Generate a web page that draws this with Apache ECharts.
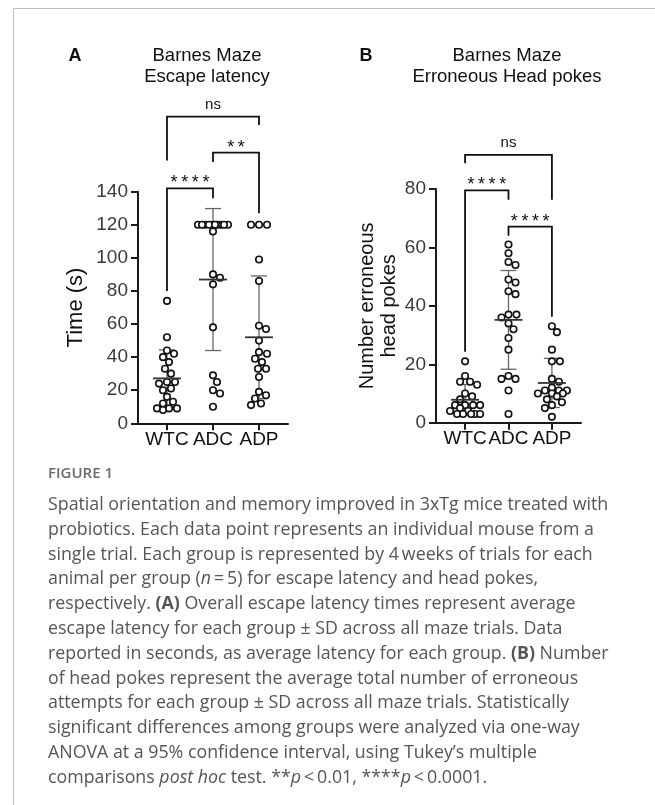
<!DOCTYPE html>
<html><head><meta charset="utf-8">
<script src="https://cdn.jsdelivr.net/npm/echarts@6/dist/echarts.min.js"></script>
<style>html,body{margin:0;padding:0;background:#fff}#c{width:655px;height:805px}</style>
</head><body><div id="c"></div>
<script>
// ---------- data ----------
const categories = ['WTC', 'ADC', 'ADP'];
// Panel A: escape latency (s)
const latencyWTC = [74, 52, 44, 42, 40, 37, 33, 30, 25, 25, 24, 21, 20, 16, 13, 12, 9, 9, 9, 8];
const latencyADC = [120, 120, 120, 120, 120, 120, 120, 120, 120, 120, 116, 90, 88, 84, 58, 29, 25, 20, 18, 10];
const latencyADP = [120, 120, 120, 99, 86, 59, 57, 50, 43, 42, 39, 37, 33, 33, 28, 19, 17, 15, 12, 11];
// Panel B: erroneous head pokes
const pokesWTC = [21, 16, 14, 14, 13, 10, 9, 8, 6, 6, 6, 6, 5, 4, 4, 3, 3, 3, 3, 3];
const pokesADC = [61, 58, 55, 54, 49, 48, 45, 44, 37, 37, 36, 34, 32, 29, 25, 16, 15, 15, 11, 3];
const pokesADP = [33, 31, 25, 21, 21, 15, 14, 12, 11, 11, 11, 10, 10, 10, 9, 8, 7, 6, 5, 2];
const ticksA = [0, 20, 40, 60, 80, 100, 120, 140];
const ticksB = [0, 20, 40, 60, 80];
// significance brackets: [fromGroup, toGroup, topValue, leftLegEnd, rightLegEnd, label]
const bracketsA = [[0, 1, 142, 80, 136, '****'], [1, 2, 163.6, 158, 127, '**'], [0, 2, 185.4, 158.8, 180.3, 'ns']];
const bracketsB = [[0, 1, 79.5, 24.3, 76.3, '****'], [1, 2, 67.1, 64, 36.3, '****'], [0, 2, 91.7, 88.8, 76.3, 'ns']];
const captionLines = [
  'Spatial orientation and memory improved in 3xTg mice treated with',
  'probiotics. Each data point represents an individual mouse from a',
  'single trial. Each group is represented by 4\u2009weeks of trials for each',
  'animal per group ({i|n}\u2009=\u20095) for escape latency and head pokes,',
  'respectively. {b|(A)} Overall escape latency times represent average',
  'escape latency for each group \u00b1 SD across all maze trials. Data',
  'reported in seconds, as average latency for each group. {b|(B)} Number',
  'of head pokes represent the average total number of erroneous',
  'attempts for each group \u00b1 SD across all maze trials. Statistically',
  'significant differences among groups were analyzed via one-way',
  'ANOVA at a 95% confidence interval, using Tukey\u2019s multiple',
  'comparisons {i|post hoc} test. **{i|p}\u2009<\u20090.01, ****{i|p}\u2009<\u20090.0001.'
];

// ---------- helpers ----------
const mean = a => a.reduce((s, v) => s + v, 0) / a.length;
const sd = a => { const m = mean(a); return Math.sqrt(a.reduce((s, v) => s + (v - m) * (v - m), 0) / (a.length - 1)); };
const groupsA = [latencyWTC, latencyADC, latencyADP];
const groupsB = [pokesWTC, pokesADC, pokesADP];
const FONT = '"Liberation Sans", Arial, sans-serif';
const AX = '#1a1a1a';
const CAP = 17.8;

const chart = echarts.init(document.getElementById('c'), null, { renderer: 'canvas' });

function xAxisDef(gridIndex, min, max) {
  return {
    type: 'value', gridIndex, min, max,
    splitLine: { show: false },
    axisLine: { show: true, onZero: false, lineStyle: { color: AX, width: 2 } },
    axisTick: { show: true, customValues: [0, 1, 2], length: 7, lineStyle: { color: AX, width: 2 } },
    axisLabel: { show: true, customValues: [0, 1, 2], formatter: v => categories[Math.round(v)] || '',
      fontFamily: FONT, fontSize: 19, color: '#111', margin: 7 }
  };
}
function yAxisDef(gridIndex, max, ticks, name, nameGap, nameSize, nameLH) {
  return {
    type: 'value', gridIndex, min: ticks[0], max, interval: ticks[1] - ticks[0],
    splitLine: { show: false },
    axisLine: { show: true, onZero: false, lineStyle: { color: AX, width: 2 } },
    axisTick: { show: true, length: 7, lineStyle: { color: AX, width: 2 } },
    axisLabel: { fontFamily: FONT, fontSize: 19, color: '#3a3a3a', margin: 10 },
    name, nameLocation: 'middle', nameGap,
    nameTextStyle: { fontFamily: FONT, fontSize: nameSize, color: '#111', lineHeight: nameLH }
  };
}

function statsData(groups) { return groups.map((g, i) => [i, mean(g), sd(g)]); }
function sdRender(params, api) {
  const x = api.value(0), m = api.value(1), s = api.value(2);
  const t = api.coord([x, m + s]), b = api.coord([x, m - s]);
  const st = { stroke: '#666', lineWidth: 1.3 };
  return { type: 'group', children: [
    { type: 'line', shape: { x1: t[0], y1: t[1], x2: b[0], y2: b[1] }, style: st },
    { type: 'line', shape: { x1: t[0] - 8, y1: t[1], x2: t[0] + 8, y2: t[1] }, style: st },
    { type: 'line', shape: { x1: b[0] - 8, y1: b[1], x2: b[0] + 8, y2: b[1] }, style: st }
  ] };
}
function meanRender(params, api) {
  const c = api.coord([api.value(0), api.value(1)]);
  return { type: 'line', shape: { x1: c[0] - 14, y1: c[1], x2: c[0] + 14, y2: c[1] }, style: { stroke: '#333', lineWidth: 1.8 } };
}
function bracketRenderer(list) {
  return function (params, api) {
    const x1 = api.value(0), x2 = api.value(1), top = api.value(2);
    const pL = api.coord([x1, api.value(3)]), pTL = api.coord([x1, top]);
    const pTR = api.coord([x2, top]), pR = api.coord([x2, api.value(4)]);
    const lab = list[params.dataIndex][5];
    const isStar = lab.indexOf('*') >= 0;
    return { type: 'group', children: [
      { type: 'polyline', shape: { points: [pL, pTL, pTR, pR] }, style: { stroke: '#111', lineWidth: 1.8, fill: null } },
      { type: 'text', x: (pTL[0] + pTR[0]) / 2, y: pTL[1] + (isStar ? 4 : -4),
        style: { text: isStar ? lab.split('').join('\u2009') : lab, align: 'center', verticalAlign: 'bottom',
          font: (isStar ? '18px ' : '15px ') + FONT, fill: '#111' } }
    ] };
  };
}

function scatterSeries(groups, xi, yi) {
  return groups.map((g, gi) => ({
    type: 'scatter', xAxisIndex: xi, yAxisIndex: yi, z: 3,
    symbol: 'circle', symbolSize: 6.5,
    itemStyle: { color: '#fff', borderColor: '#111', borderWidth: 1.6, opacity: 1 },
    emphasis: { disabled: true },
    data: g.map(v => ({ value: [gi, v] }))
  }));
}

const graphics = [
  { type: 'line', shape: { x1: 13.5, y1: 8.5, x2: 13.5, y2: 805 }, style: { stroke: '#bdbdbd', lineWidth: 1 } },
  { type: 'line', shape: { x1: 13.5, y1: 8.5, x2: 655, y2: 8.5 }, style: { stroke: '#bdbdbd', lineWidth: 1 } },
  { type: 'text', x: 75, y: 56, style: { text: 'A', font: 'bold 18px ' + FONT, fill: '#111', align: 'center', verticalAlign: 'middle' } },
  { type: 'text', x: 366, y: 56, style: { text: 'B', font: 'bold 18px ' + FONT, fill: '#111', align: 'center', verticalAlign: 'middle' } },
  { type: 'text', x: 207, y: 45, style: { text: 'Barnes Maze\nEscape latency', font: '18.5px ' + FONT, lineHeight: 21, fill: '#111', align: 'center', verticalAlign: 'top' } },
  { type: 'text', x: 507, y: 45, style: { text: 'Barnes Maze\nErroneous Head pokes', font: '18.5px ' + FONT, lineHeight: 21, fill: '#111', align: 'center', verticalAlign: 'top' } },
  { type: 'text', x: 48, y: 474, style: { text: 'FIGURE 1', font: '600 15px "Open Sans", sans-serif', fill: '#6a6a6a', verticalAlign: 'middle' } }
];
captionLines.forEach((ln, i) => {
  graphics.push({ type: 'text', x: 48, y: 505 + i * 24.8, style: {
    text: ln, font: CAP + 'px "Open Sans", sans-serif', fill: '#555', verticalAlign: 'middle',
    rich: { i: { fontStyle: 'italic', fontFamily: 'Open Sans', fontSize: CAP, fill: '#555' },
            b: { fontWeight: 'bold', fontFamily: 'Open Sans', fontSize: CAP, fill: '#555' } } } });
});

const option = {
  animation: false,
  backgroundColor: '#fff',
  grid: [
    { left: 138, top: 191.7, width: 150, height: 231.6 },
    { left: 436, top: 189, width: 145, height: 233.7 }
  ],
  xAxis: [xAxisDef(0, -0.63, 2.63), xAxisDef(1, -0.67, 2.67)],
  yAxis: [yAxisDef(0, 140, ticksA, 'Time (s)', 50, 22, 24), yAxisDef(1, 80, ticksB, 'Number erroneous\nhead pokes', 36, 20, 22)],
  series: [
    { type: 'custom', xAxisIndex: 0, yAxisIndex: 0, z: 2, renderItem: sdRender, data: statsData(groupsA), encode: { x: 0, y: 1 }, silent: true },
    { type: 'custom', xAxisIndex: 1, yAxisIndex: 1, z: 2, renderItem: sdRender, data: statsData(groupsB), encode: { x: 0, y: 1 }, silent: true },
    ...scatterSeries(groupsA, 0, 0),
    ...scatterSeries(groupsB, 1, 1),
    { type: 'custom', xAxisIndex: 0, yAxisIndex: 0, z: 4, renderItem: meanRender, data: statsData(groupsA), encode: { x: 0, y: 1 }, silent: true },
    { type: 'custom', xAxisIndex: 1, yAxisIndex: 1, z: 4, renderItem: meanRender, data: statsData(groupsB), encode: { x: 0, y: 1 }, silent: true },
    { type: 'custom', xAxisIndex: 0, yAxisIndex: 0, z: 4, clip: false, renderItem: bracketRenderer(bracketsA), data: bracketsA.map(b => b.slice(0, 5)), encode: { x: [0, 1], y: 2 }, silent: true },
    { type: 'custom', xAxisIndex: 1, yAxisIndex: 1, z: 4, clip: false, renderItem: bracketRenderer(bracketsB), data: bracketsB.map(b => b.slice(0, 5)), encode: { x: [0, 1], y: 2 }, silent: true }
  ],
  graphic: graphics
};
chart.setOption(option);

// beeswarm horizontal offsets computed from pixel positions given by the axes
function swarm(gridIndex, gi, values, diam, maxHalf) {
  const ys = values.map(v => chart.convertToPixel({ gridIndex }, [gi, v])[1]);
  const order = ys.map((y, i) => i).sort((a, b) => ys[a] - ys[b]);
  const placed = []; const offs = new Array(values.length).fill(0);
  for (const i of order) {
    let chosen = null;
    for (let minD = diam; minD > 0.8 && chosen === null; minD *= 0.85) {
      for (let k = 0; k <= 2 * maxHalf + 1; k++) {
        const c = k === 0 ? 0 : (k % 2 ? 1 : -1) * Math.ceil(k / 2);
        if (Math.abs(c) > maxHalf) break;
        if (placed.every(p => (p.x - c) ** 2 + (p.y - ys[i]) ** 2 >= minD * minD)) { chosen = c; break; }
      }
    }
    if (chosen === null) chosen = 0;
    offs[i] = chosen; placed.push({ x: chosen, y: ys[i] });
  }
  return offs;
}
function withOffsets(groups, gridIndex) {
  return groups.map((g, gi) => {
    const offs = swarm(gridIndex, gi, g, 7.5, 15);
    return { data: g.map((v, k) => ({ value: [gi, v], symbolOffset: [offs[k], 0] })) };
  });
}
const upd = [{}, {}, ...withOffsets(groupsA, 0), ...withOffsets(groupsB, 1)];
chart.setOption({ series: upd });
</script></body></html>
